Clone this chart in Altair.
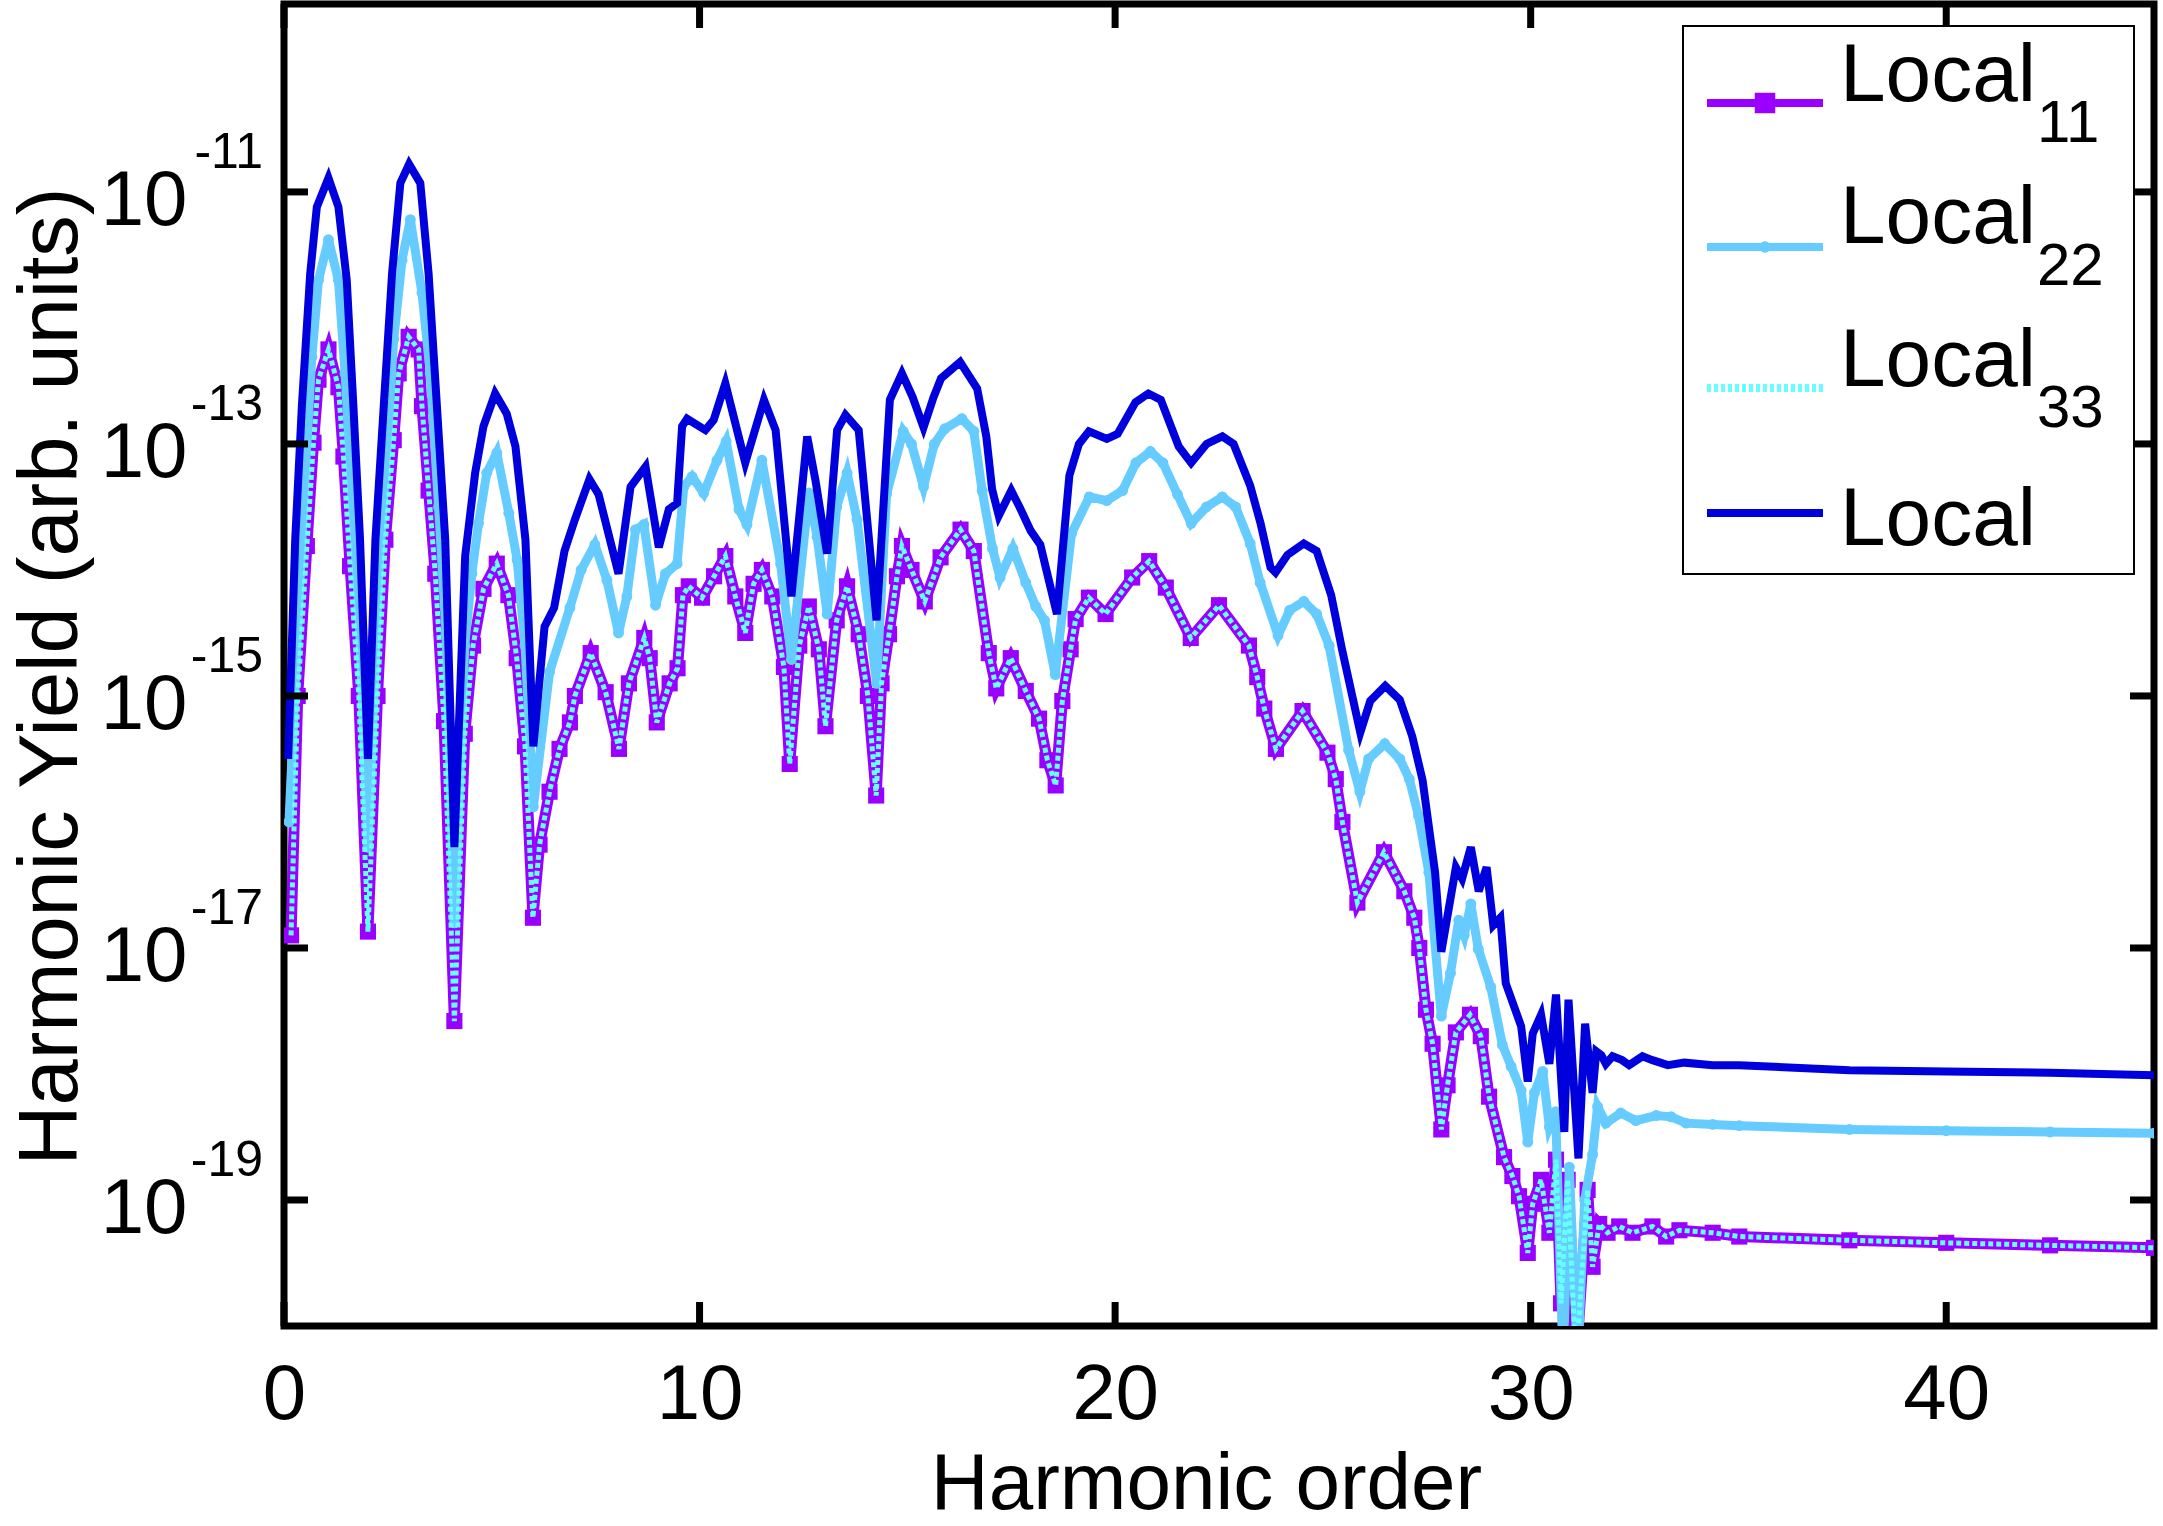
import altair as alt
import pandas as pd

# ---- data: (harmonic order, log10 of harmonic yield) ----
LOCAL = [
    (0.10, -15.5), (0.27, -13.76), (0.43, -12.7), (0.63, -11.65), (0.79, -11.12), (1.07, -10.89),
    (1.31, -11.12), (1.51, -11.7), (1.67, -12.7), (1.83, -13.76), (2.02, -15.5), (2.2, -13.76),
    (2.4, -12.7), (2.6, -11.65), (2.8, -10.93), (3.01, -10.78), (3.28, -10.93), (3.48, -11.65),
    (3.68, -12.7), (3.88, -13.76), (4.1, -16.2), (4.36, -13.89), (4.6, -13.23), (4.8, -12.86),
    (5.08, -12.6), (5.36, -12.76), (5.57, -13.02), (5.81, -13.76), (6.0, -15.4), (6.27, -14.45),
    (6.5, -14.3), (6.75, -13.85), (7.0, -13.6), (7.35, -13.28), (7.57, -13.4), (8.05, -14.03),
    (8.34, -13.34), (8.7, -13.18), (9.02, -13.82), (9.26, -13.52), (9.46, -13.47), (9.58, -12.86),
    (9.7, -12.8), (10.14, -12.89), (10.34, -12.81), (10.62, -12.52), (11.1, -13.15), (11.55, -12.65),
    (11.83, -12.89), (12.21, -14.21), (12.59, -12.94), (12.79, -13.29), (13.07, -13.87), (13.31, -12.89),
    (13.51, -12.77), (13.83, -12.89), (14.26, -14.4), (14.58, -12.65), (14.87, -12.44), (15.13, -12.63),
    (15.39, -12.87), (15.63, -12.63), (15.81, -12.48), (16.27, -12.35), (16.68, -12.56), (16.9, -12.94),
    (17.04, -13.36), (17.2, -13.57), (17.5, -13.37), (17.7, -13.5), (17.97, -13.69), (18.2, -13.8),
    (18.6, -14.35), (18.9, -13.25), (19.13, -13.0), (19.37, -12.9), (19.8, -12.96), (20.06, -12.92),
    (20.49, -12.67), (20.8, -12.6), (21.1, -12.65), (21.53, -13.02), (21.83, -13.15), (22.2, -13.0),
    (22.58, -12.94), (22.85, -13.0), (23.25, -13.33), (23.5, -13.63), (23.74, -13.98), (23.86, -14.02),
    (24.15, -13.88), (24.54, -13.79), (24.85, -13.85), (25.2, -14.2), (25.46, -14.63), (25.9, -15.29),
    (26.14, -15.04), (26.5, -14.92), (26.85, -15.03), (27.15, -15.32), (27.4, -15.67), (27.6, -16.16),
    (27.7, -16.4), (27.85, -17.03), (28.2, -16.36), (28.35, -16.45), (28.56, -16.2), (28.75, -16.55),
    (28.94, -16.36), (29.1, -16.82), (29.27, -16.76), (29.4, -17.28), (29.77, -17.62), (29.93, -18.06),
    (30.05, -17.68), (30.25, -17.53), (30.45, -17.92), (30.61, -17.37), (30.81, -18.46), (30.91, -17.41),
    (31.15, -18.67), (31.31, -17.6), (31.49, -18.15), (31.58, -17.82), (31.7, -17.85), (31.81, -17.92),
    (31.97, -17.86), (32.2, -17.89), (32.37, -17.93), (32.69, -17.86), (32.93, -17.89), (33.3, -17.93),
    (33.7, -17.91), (34.38, -17.93), (35.02, -17.93), (37.67, -17.97), (40.0, -17.98), (42.5, -17.99),
    (45.0, -18.01),
]

LOCAL22 = [
    (0.12, -16.0), (0.39, -14.03), (0.51, -13.23), (0.67, -12.31), (0.83, -11.7), (1.07, -11.38),
    (1.31, -11.7), (1.47, -12.44), (1.63, -13.37), (1.8, -14.3), (2.02, -16.2), (2.28, -14.03),
    (2.44, -13.23), (2.64, -12.17), (2.84, -11.54), (3.04, -11.22), (3.32, -11.8), (3.52, -12.44),
    (3.72, -13.5), (3.9, -14.5), (4.1, -16.8), (4.35, -14.6), (4.52, -14.03), (4.68, -13.63),
    (4.88, -13.23), (5.12, -13.07), (5.41, -13.55), (5.61, -13.92), (5.8, -14.6), (6.0, -15.88),
    (6.39, -14.81), (6.88, -14.3), (7.15, -14.0), (7.48, -13.8), (7.77, -14.08), (8.05, -14.5),
    (8.25, -14.21), (8.46, -13.68), (8.66, -13.64), (8.94, -14.28), (9.18, -14.03), (9.46, -13.95),
    (9.62, -13.34), (9.82, -13.26), (10.1, -13.39), (10.42, -13.13), (10.64, -12.98), (10.95, -13.52),
    (11.14, -13.64), (11.5, -13.13), (11.95, -13.95), (12.21, -14.71), (12.63, -13.39), (12.83, -13.74),
    (13.07, -14.35), (13.3, -13.5), (13.55, -13.23), (13.79, -13.6), (14.26, -14.9), (14.5, -13.4),
    (14.9, -12.9), (15.1, -13.0), (15.39, -13.34), (15.65, -13.0), (15.9, -12.88), (16.31, -12.8),
    (16.6, -12.9), (16.8, -13.37), (17.05, -13.83), (17.23, -14.06), (17.54, -13.83), (17.85, -14.1),
    (18.09, -14.29), (18.3, -14.4), (18.56, -14.83), (18.95, -13.71), (19.38, -13.42), (19.8, -13.45),
    (20.18, -13.37), (20.5, -13.15), (20.85, -13.06), (21.15, -13.15), (21.5, -13.4), (21.83, -13.63),
    (22.2, -13.5), (22.58, -13.42), (22.9, -13.5), (23.25, -13.79), (23.49, -14.1), (23.92, -14.52),
    (24.2, -14.32), (24.54, -14.25), (24.85, -14.35), (25.15, -14.6), (25.62, -15.43), (25.89, -15.76),
    (26.1, -15.5), (26.49, -15.38), (26.85, -15.5), (27.08, -15.66), (27.3, -15.95), (27.55, -16.4),
    (27.85, -17.54), (28.07, -17.2), (28.27, -16.78), (28.4, -16.9), (28.56, -16.65), (28.74, -17.01),
    (29.04, -17.31), (29.32, -17.77), (29.53, -17.94), (29.77, -18.13), (29.93, -18.54), (30.09, -18.15),
    (30.29, -17.98), (30.45, -18.42), (30.6, -18.3), (30.78, -20.3), (30.93, -18.74), (31.13, -20.3),
    (31.3, -19.0), (31.49, -18.64), (31.61, -18.26), (31.81, -18.39), (32.17, -18.31), (32.53, -18.37),
    (33.02, -18.33), (33.38, -18.34), (33.74, -18.39), (34.38, -18.4), (35.02, -18.41), (37.67, -18.44),
    (40.0, -18.45), (42.5, -18.46), (45.0, -18.47),
]

LOCAL11 = [
    (0.17, -16.9), (0.33, -15.0), (0.55, -13.81), (0.71, -12.99), (0.83, -12.49), (1.07, -12.25),
    (1.31, -12.55), (1.43, -13.1), (1.59, -13.97), (1.8, -15.0), (2.02, -16.87), (2.25, -15.0),
    (2.44, -13.76), (2.64, -12.97), (2.76, -12.44), (3.0, -12.15), (3.24, -12.25), (3.32, -12.7),
    (3.48, -13.37), (3.64, -14.03), (3.85, -15.2), (4.1, -17.58), (4.35, -15.3), (4.55, -14.6),
    (4.8, -14.15), (5.12, -13.95), (5.4, -14.2), (5.6, -14.7), (5.8, -15.4), (5.99, -16.76),
    (6.15, -16.18), (6.39, -15.76), (6.63, -15.42), (6.88, -15.21), (7.0, -15.0), (7.38, -14.66),
    (7.74, -14.97), (8.06, -15.42), (8.3, -14.9), (8.67, -14.54), (8.8, -14.7), (8.97, -15.21),
    (9.28, -14.9), (9.47, -14.78), (9.6, -14.2), (9.74, -14.13), (10.06, -14.22), (10.35, -14.05),
    (10.62, -13.89), (10.86, -14.21), (11.1, -14.5), (11.3, -14.11), (11.5, -14.0), (11.75, -14.21),
    (12.03, -14.77), (12.17, -15.54), (12.4, -14.6), (12.63, -14.29), (12.87, -14.63), (13.03, -15.24),
    (13.3, -14.4), (13.55, -14.13), (13.83, -14.51), (14.05, -15.0), (14.25, -15.79), (14.38, -14.9),
    (14.56, -14.51), (14.75, -14.05), (14.87, -13.81), (15.1, -14.0), (15.42, -14.25), (15.8, -13.9),
    (16.28, -13.68), (16.6, -13.85), (16.96, -14.66), (17.14, -14.94), (17.49, -14.7), (17.85, -14.96),
    (18.17, -15.18), (18.37, -15.51), (18.57, -15.71), (18.73, -15.04), (18.93, -14.63), (19.05, -14.39),
    (19.37, -14.22), (19.77, -14.35), (20.41, -14.06), (20.82, -13.93), (21.22, -14.14), (21.82, -14.54),
    (22.5, -14.28), (23.22, -14.6), (23.42, -14.85), (23.59, -15.1), (23.87, -15.42), (24.51, -15.12),
    (25.11, -15.45), (25.31, -15.66), (25.47, -16.0), (25.83, -16.64), (26.47, -16.24), (26.96, -16.55),
    (27.2, -16.76), (27.32, -17.0), (27.48, -17.49), (27.64, -17.76), (27.85, -18.44), (28.0, -18.09),
    (28.2, -17.67), (28.54, -17.53), (28.8, -17.7), (29.0, -18.18), (29.36, -18.66), (29.56, -18.81),
    (29.72, -18.97), (29.93, -19.42), (30.05, -19.03), (30.25, -18.84), (30.45, -19.26), (30.61, -18.68),
    (30.73, -19.82), (30.89, -18.84), (31.09, -20.3), (31.37, -18.92), (31.49, -19.53), (31.65, -19.19),
    (31.85, -19.26), (32.13, -19.21), (32.45, -19.26), (32.93, -19.21), (33.26, -19.29), (33.58, -19.24),
    (34.38, -19.26), (35.02, -19.29), (37.67, -19.32), (40.0, -19.34), (42.5, -19.36), (45.0, -19.38),
]

# Local33 lies on top of Local11 throughout the figure
LOCAL33 = list(LOCAL11)

Y_TICK_EXP = [-19, -17, -15, -13, -11]
X_TICKS = [0, 10, 20, 30, 40]

PURPLE, LIGHT, CYAN, BLUE = "#9900FF", "#66CCFF", "#66FFFF", "#0000DC"
LEGEND_ROWS = [("Local", "11", PURPLE), ("Local", "22", LIGHT), ("Local", "33", CYAN), ("Local", "", BLUE)]

# ---- layout / style ----
W, H = 1870, 1322
FONT = "Liberation Sans"


def frame(pairs):
    return pd.DataFrame({"order": [p[0] for p in pairs], "yld": [10.0 ** p[1] for p in pairs]})


xs = alt.Scale(domain=[0, 45], nice=False, zero=False)
ys = alt.Scale(type="log", domain=[1e-20, 3.1e-10], nice=False)

x_axis = alt.Axis(
    values=X_TICKS, title="Harmonic order", ticks=False, tickSize=0, domain=False, grid=False,
    labelFont=FONT, labelFontSize=78, labelColor="black", labelPadding=92, labelBaseline="alphabetic",
    labelFlush=False, labelOverlap=False,
    titleFont=FONT, titleFontSize=80, titleFontWeight="normal", titleColor="black",
    titleX=922, titleY=182, titleBaseline="alphabetic", titleAlign="center",
)
y_axis = alt.Axis(
    values=[10.0 ** e for e in Y_TICK_EXP], labelExpr="'10'", title="Harmonic Yield (arb. units)",
    ticks=False, tickSize=0, domain=False, grid=False,
    labelFont=FONT, labelFontSize=78, labelColor="black", labelPadding=97, labelAlign="right",
    labelBaseline="alphabetic", labelOffset=33, labelOverlap=False, labelFlush=False,
    titleFont=FONT, titleFontSize=83, titleFontWeight="normal", titleColor="black",
    titleAngle=270, titleX=-208, titleY=672, titleAlign="center", titleBaseline="alphabetic",
)

X = alt.X("order:Q", scale=xs, axis=x_axis)
Y = alt.Y("yld:Q", scale=ys, axis=y_axis)

layers = []
layers.append(alt.Chart(frame(LOCAL11)).mark_line(color=PURPLE, strokeWidth=11, clip=True).encode(x=X, y=Y))
layers.append(alt.Chart(frame(LOCAL11)).mark_square(color=PURPLE, size=260, opacity=1, clip=True).encode(x=X, y=Y))
layers.append(alt.Chart(frame(LOCAL22)).mark_line(color=LIGHT, strokeWidth=9, clip=True).encode(x=X, y=Y))
layers.append(alt.Chart(frame(LOCAL22)).mark_circle(color=LIGHT, size=120, opacity=1, clip=True).encode(x=X, y=Y))
layers.append(alt.Chart(frame(LOCAL33)).mark_line(color=CYAN, strokeWidth=5, strokeDash=[5, 3], clip=True).encode(x=X, y=Y))
layers.append(alt.Chart(frame(LOCAL)).mark_line(color=BLUE, strokeWidth=8, clip=True).encode(x=X, y=Y))

# inward ticks on all four sides
ytick_df = pd.DataFrame({"yld": [10.0 ** e for e in Y_TICK_EXP], "lab": [str(e) for e in Y_TICK_EXP]})
xtick_df = pd.DataFrame({"order": X_TICKS})
layers.append(alt.Chart(ytick_df).mark_rule(color="black", strokeWidth=7).encode(y=Y, x=alt.value(0), x2=alt.value(24)))
layers.append(alt.Chart(ytick_df).mark_rule(color="black", strokeWidth=7).encode(y=Y, x=alt.value(W - 24), x2=alt.value(W)))
layers.append(alt.Chart(xtick_df).mark_rule(color="black", strokeWidth=7).encode(x=X, y=alt.value(H - 24), y2=alt.value(H)))
layers.append(alt.Chart(xtick_df).mark_rule(color="black", strokeWidth=7).encode(x=X, y=alt.value(0), y2=alt.value(24)))

# exponents of the y tick labels
layers.append(
    alt.Chart(ytick_df).mark_text(align="right", baseline="alphabetic", dy=-24, fontSize=50, font=FONT, color="black")
    .encode(y=Y, x=alt.value(-21), text="lab:N")
)

# legend (drawn manually to allow subscripts)
one = pd.DataFrame({"k": [0]})
layers.append(alt.Chart(one).mark_rect(fill="white", stroke="black", strokeWidth=2).encode(
    x=alt.value(1399), x2=alt.value(1850), y=alt.value(22), y2=alt.value(570)))
line_y = [99, 243, 384, 509]
text_y = [97, 239, 382, 541]
sub_y = [138, 281, 423, 0]
for i, (name, sub, col) in enumerate(LEGEND_ROWS):
    rule_kw = dict(color=col, strokeWidth=8)
    if col == CYAN:
        rule_kw.update(strokeDash=[4, 3])
    layers.append(alt.Chart(one).mark_rule(**rule_kw).encode(
        x=alt.value(1423), x2=alt.value(1539), y=alt.value(line_y[i])))
    if col == PURPLE:
        layers.append(alt.Chart(one).mark_square(color=col, size=420, opacity=1).encode(
            x=alt.value(1481), y=alt.value(line_y[i])))
    if col == LIGHT:
        layers.append(alt.Chart(one).mark_circle(color=col, size=130, opacity=1).encode(
            x=alt.value(1481), y=alt.value(line_y[i])))
    layers.append(alt.Chart(one).mark_text(text=name, align="left", baseline="alphabetic", fontSize=82,
                                           font=FONT, color="black").encode(
        x=alt.value(1556), y=alt.value(text_y[i])))
    if sub:
        layers.append(alt.Chart(one).mark_text(text=sub, align="left", baseline="alphabetic", fontSize=60,
                                               font=FONT, color="black").encode(
            x=alt.value(1753), y=alt.value(sub_y[i])))

chart = (
    alt.layer(*layers)
    .properties(
        width=W, height=H,
        autosize=alt.AutoSizeParams(type="none"),
        padding={"left": 284, "top": 4, "right": 9, "bottom": 200},
        background="white",
    )
    .configure_view(stroke="black", strokeWidth=7)
)

chart.save("out.html", embed_options={"renderer": "svg", "actions": False})
